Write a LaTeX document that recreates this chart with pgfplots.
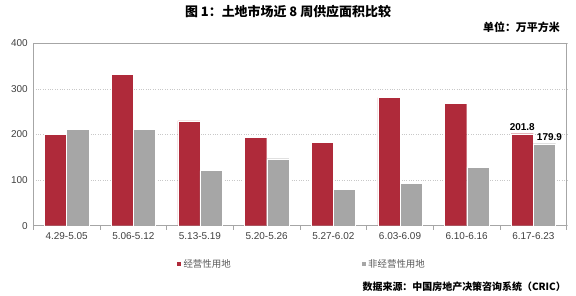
\documentclass[border=0pt]{standalone}
\usepackage{pgfplots}
\pgfplotsset{compat=1.18}
\usepackage{fontspec}
\setmainfont{Liberation Sans}
\newfontfamily\cjk{Noto Sans CJK SC}
\definecolor{barred}{HTML}{AF2A3A}
\definecolor{bargray}{HTML}{A6A6A6}
\definecolor{axgray}{HTML}{A6A6A6}
\definecolor{gridgray}{HTML}{C8C8C8}
\definecolor{ticktext}{HTML}{404040}
\definecolor{legtext}{HTML}{595959}
\begin{document}
\begin{tikzpicture}
\useasboundingbox (0,0) rectangle (576bp,296bp);
\node[font=\cjk\bfseries\fontsize{13}{15}\selectfont] at (288bp,284bp) {图 1：土地市场近 8 周供应面积比较};
\node[font=\cjk\bfseries\fontsize{11}{13}\selectfont, anchor=east, inner sep=0pt] at (560bp,268.7bp) {单位：万平方米};
\node[font=\cjk\bfseries\fontsize{10}{12}\selectfont, anchor=east, inner sep=0pt] at (566bp,9bp) {数据来源：中国房地产决策咨询系统（CRIC）};
\begin{axis}[
  at={(33.3bp,70.3bp)}, anchor=south west,
  width=533.4bp, height=182.4bp, scale only axis,
  xmin=-0.5, xmax=7.5, ymin=0, ymax=400,
  ybar=0pt, bar width=22.2bp,
  axis line style={draw=axgray, line width=0.8bp},
  ytick={0,100,200,300,400},
  ymajorgrids, grid style={draw=gridgray, dotted, line width=0.6bp},
  major tick length=0pt,
  xtick pos=bottom, ytick pos=left,
  /pgf/number format/assume math mode=true,
  yticklabel style={font=\fontsize{10}{12}\selectfont, text=ticktext, xshift=-2bp},
  xtick={0,...,7},
  xticklabels={4.29-5.05,5.06-5.12,5.13-5.19,5.20-5.26,5.27-6.02,6.03-6.09,6.10-6.16,6.17-6.23},
  xticklabel style={font=\fontsize{10}{12}\selectfont, text=ticktext, yshift=-3bp},
  extra x ticks={-0.5,0.5,1.5,2.5,3.5,4.5,5.5,6.5,7.5},
  extra x tick labels={},
  extra x tick style={major tick length=4bp, tick align=outside, tick style={draw=axgray, line width=0.8bp}, grid=none},
  legend columns=2,
  legend style={at={(0.262,-0.21)}, anchor=west, draw=none, fill=none,
    font=\cjk\fontsize{9.5}{11}\selectfont, text=legtext,
    /tikz/every even column/.append style={column sep=128bp}},
  legend image code/.code={\fill[#1] (0bp,-2.5bp) rectangle (5bp,2.5bp);},
  nodes near coords style={font=\bfseries\fontsize{10}{12}\selectfont, text=black},
]
\addplot[fill=barred, draw=white, line width=0.3bp, bar shift=-11.1bp]
  coordinates {(0,200) (1,332.6) (2,230) (3,194) (4,183.4) (5,281) (6,268) (7,201.8)};
\addlegendentry{经营性用地}
\addplot[fill=bargray, draw=white, line width=0.3bp, bar shift=11.1bp]
  coordinates {(0,212) (1,212) (2,121) (3,147) (4,80) (5,93.5) (6,128.7) (7,179.9)};
\addlegendentry{非经营性用地}
\addplot[draw=none, fill=none, bar shift=-11.1bp, forget plot,
  nodes near coords={\pgfmathprintnumber[fixed,fixed zerofill,precision=1]{\pgfplotspointmeta}},
  point meta=y] coordinates {(7,201.8)};
\addplot[draw=none, fill=none, bar shift=11.1bp, forget plot,
  nodes near coords={\pgfmathprintnumber[fixed,fixed zerofill,precision=1]{\pgfplotspointmeta}},
  nodes near coords style={xshift=5bp},
  point meta=y] coordinates {(7,179.9)};
\end{axis}
\end{tikzpicture}
\end{document}
